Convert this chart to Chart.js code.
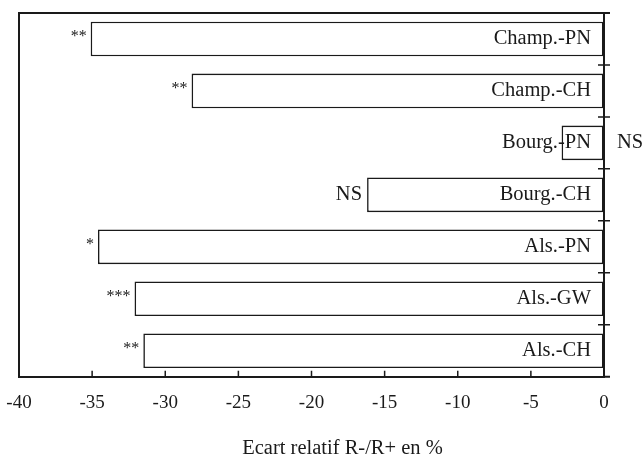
<!DOCTYPE html>
<html>
<head>
<meta charset="utf-8">
<script src="https://cdn.jsdelivr.net/npm/chart.js@4.4.0/dist/chart.umd.min.js"></script>
<style>
  html, body { margin: 0; padding: 0; background: #fff; }
  #wrap { width: 644px; height: 457px; position: relative; }
</style>
</head>
<body>
<div id="wrap"><canvas id="c" width="644" height="457"></canvas></div>
<script>
// ---- data ----
const categories = ['Champ.-PN', 'Champ.-CH', 'Bourg.-PN', 'Bourg.-CH', 'Als.-PN', 'Als.-GW', 'Als.-CH'];
const values = [-35.1, -28.2, -2.9, -16.2, -34.6, -32.1, -31.5];
const significance = ['**', '**', 'NS', 'NS', '*', '***', '**'];
const xMin = -40, xMax = 0, xStep = 5;
const xTitle = 'Ecart relatif R-/R+ en %';

const FONT = '"Liberation Serif", "Times New Roman", serif';
const INK = '#1a1a1a';

const decor = {
  id: 'decor',
  afterDatasetsDraw(chart) {
    const ctx = chart.ctx;
    const a = chart.chartArea;
    const xs = chart.scales.x, ys = chart.scales.y;
    ctx.save();
    ctx.strokeStyle = INK;
    ctx.lineWidth = 2;
    ctx.lineCap = 'butt';
    // frame: top, left, extension of bottom axis
    ctx.beginPath();
    ctx.moveTo(a.left, a.bottom); ctx.lineTo(a.left, a.top); ctx.lineTo(a.right + 6, a.top);
    ctx.moveTo(a.right, a.bottom); ctx.lineTo(a.right + 6, a.bottom);
    ctx.stroke();
    // inward x ticks
    ctx.lineWidth = 1.5;
    ctx.beginPath();
    xs.ticks.forEach(t => {
      const px = xs.getPixelForValue(t.value);
      ctx.moveTo(px, a.bottom); ctx.lineTo(px, a.bottom - 6);
    });
    // crossing y ticks between categories
    for (let i = 0; i < categories.length - 1; i++) {
      const py = (ys.getPixelForValue(i) + ys.getPixelForValue(i + 1)) / 2;
      ctx.moveTo(a.right - 6, py); ctx.lineTo(a.right + 6, py);
    }
    ctx.stroke();

    // labels
    const meta = chart.getDatasetMeta(0);
    ctx.fillStyle = INK;
    ctx.textBaseline = 'middle';
    meta.data.forEach((bar, i) => {
      const cy = ys.getPixelForValue(i);
      ctx.font = '20.5px ' + FONT;
      ctx.textAlign = 'right';
      const lx = xs.getPixelForValue(0) - 13;
      ctx.fillText(categories[i], lx, cy);
      const labW = ctx.measureText(categories[i]).width;
      const left = xs.getPixelForValue(values[i]);
      const s = significance[i];
      const isStar = s.indexOf('*') >= 0;
      ctx.font = (isStar ? '16px ' : '20.5px ') + FONT;
      const barLen = xs.getPixelForValue(0) - left;
      if (barLen < labW + 13) {
        ctx.textAlign = 'left';
        ctx.fillText(s, xs.getPixelForValue(0) + 13, cy);
      } else {
        ctx.textAlign = 'right';
        ctx.fillText(s, left - (isStar ? 4 : 5), cy + (isStar ? -2 : 0));
      }
    });

    // axis title (centred a little right of the plot centre, as in the original)
    ctx.font = '20.5px ' + FONT;
    ctx.textAlign = 'center';
    ctx.textBaseline = 'middle';
    ctx.fillText(xTitle, (a.left + a.right) / 2 + 31, a.bottom + 72);
    ctx.restore();
  }
};

new Chart(document.getElementById('c'), {
  type: 'bar',
  data: {
    labels: categories,
    datasets: [{
      data: values,
      backgroundColor: '#ffffff',
      borderColor: INK,
      borderWidth: 1.6,
      borderSkipped: false,
      barPercentage: 0.667,
      categoryPercentage: 1.0
    }]
  },
  options: {
    indexAxis: 'y',
    responsive: false,
    animation: false,
    devicePixelRatio: 1,
    layout: { padding: { left: 19, right: 40, top: 13, bottom: 30 } },
    plugins: { legend: { display: false }, tooltip: { enabled: false } },
    scales: {
      x: {
        type: 'linear',
        position: 'bottom',
        min: xMin, max: xMax,
        ticks: { stepSize: xStep, color: INK, font: { family: FONT, size: 19 }, padding: 15, maxRotation: 0 },
        grid: { drawOnChartArea: false, drawTicks: false },
        border: { display: true, color: INK, width: 2 },
        title: { display: false },
        afterFit: (scale) => { scale.paddingLeft = 0; scale.paddingRight = 0; scale.height = 50.3; }
      },
      y: {
        position: 'right',
        ticks: { display: false },
        grid: { drawOnChartArea: false, drawTicks: false },
        border: { display: true, color: INK, width: 2 }
      }
    }
  },
  plugins: [decor]
});
</script>
</body>
</html>
